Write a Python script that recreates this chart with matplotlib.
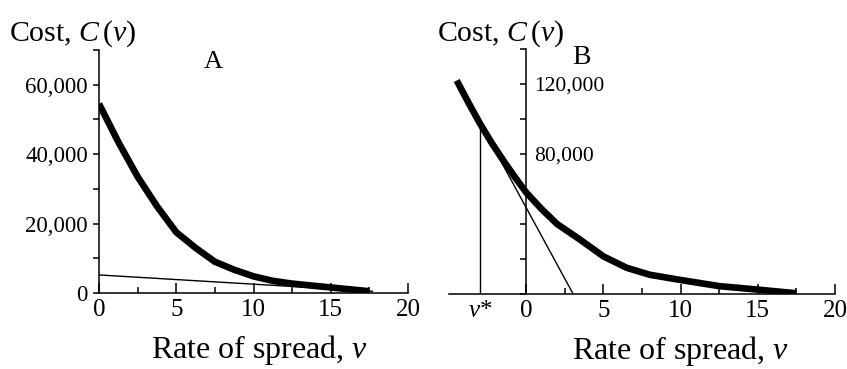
import matplotlib
matplotlib.use("Agg")
import matplotlib.pyplot as plt
from matplotlib.ticker import FixedLocator, FixedFormatter

plt.rcParams["font.family"] = ["Liberation Serif"]
plt.rcParams["mathtext.fontset"] = "custom"
plt.rcParams["mathtext.rm"] = "Liberation Serif"
plt.rcParams["mathtext.it"] = "Liberation Serif:italic"

# ── Données ──────────────────────────────────────────────────────────────────
# Panneau A
va = [0, 1.25, 2.5, 3.75, 5, 6.25, 7.5, 8.75, 10, 11.25, 12.5, 15, 17.5]
ca = [54500, 43500, 33500, 25000, 17500, 13000, 9000, 6700, 4800, 3500, 2700, 1600, 500]
va_tan = [0, 17.7]
ca_tan = [5200, 500]
ya_major = [0, 20000, 40000, 60000]
ya_labels = ["0", "20,000", "40,000", "60,000"]
ya_minor = [10000, 30000, 50000, 70000]

# Panneau B
vb = [-4.5, -3.75, -3, -2.25, -1.5, -0.75, 0, 1, 2, 3.5, 5, 6.5, 8, 10, 12.5, 15, 17.5]
cb = [122000, 109500, 97500, 86500, 76500, 67000, 58000, 48500, 40000, 31000,
      21500, 15000, 11000, 8000, 4500, 2500, 400]
v_star = -3.0
c_star = 97500
vb_tan = [v_star, 3.04]
cb_tan = [98000, 0]
yb_ticks = [0, 20000, 40000, 60000, 80000, 100000, 120000, 140000]
yb_labels = ["", "", "", "", "80,000", "", "120,000", ""]

x_major = [0, 5, 10, 15, 20]
x_major_labels = ["0", "5", "10", "15", "20"]
x_minor = [2.5, 7.5, 12.5, 17.5]

fig = plt.figure(figsize=(8.47, 3.69), dpi=100)
axA = fig.add_axes([99 / 847, 76 / 369, 309 / 847, 243 / 369])
axB = fig.add_axes([449 / 847, 75 / 369, 386 / 847, 245 / 369])

for ax in (axA, axB):
    ax.spines["top"].set_visible(False)
    ax.spines["right"].set_visible(False)
    ax.spines["left"].set_linewidth(1.1)
    ax.spines["bottom"].set_linewidth(1.1)
    ax.patch.set_alpha(0)
    ax.xaxis.set_minor_locator(FixedLocator(x_minor))
    ax.tick_params(axis="x", which="major", direction="in", length=7, width=1.1,
                   labelsize=18, pad=4)
    ax.tick_params(axis="x", which="minor", direction="in", length=4.5, width=1.1)
    ax.tick_params(axis="y", which="both", direction="out", length=4, width=1.1)

# ── A ───────────────────────────────────────────────────────────────────────
axA.plot(va, ca, color="black", lw=4.8, solid_capstyle="butt")
axA.plot(va_tan, ca_tan, color="black", lw=1.0)
axA.set_xlim(0, 20)
axA.set_ylim(0, 70000)
axA.set_xticks(x_major, x_major_labels)
axA.set_yticks(ya_major, ya_labels)
axA.yaxis.set_minor_locator(FixedLocator(ya_minor))
axA.tick_params(axis="y", labelsize=16.5, pad=4)
axA.text(7.4, 66500, "A", ha="center", va="center", fontsize=19)
axA.text(-0.29, 1.005, "Cost, $C\\,(v)$", transform=axA.transAxes, fontsize=21.5,
         ha="left", va="bottom")
axA.set_xlabel("Rate of spread, $v$", fontsize=23)
axA.xaxis.set_label_coords(0.52, -0.165)

# ── B ───────────────────────────────────────────────────────────────────────
axB.plot(vb, cb, color="black", lw=4.8, solid_capstyle="butt")
axB.plot(vb_tan, cb_tan, color="black", lw=1.0)
axB.plot([v_star, v_star], [0, c_star], color="black", lw=1.0)
axB.set_xlim(-5, 20)
axB.set_ylim(0, 140000)
axB.spines["left"].set_position(("data", 0))
axB.spines["right"].set_position(("data", 0))
axB.set_xticks([v_star] + x_major, ["$v$*"] + x_major_labels)
axB.xaxis.get_major_ticks()[0].tick1line.set_visible(False)
axB.yaxis.set_major_locator(FixedLocator(yb_ticks))
axB.yaxis.set_major_formatter(FixedFormatter(yb_labels))
axB.tick_params(axis="y", left=True, right=False, labelleft=False, labelright=True,
                labelsize=15.5, pad=2)
axB.text(3.6, 135000, "B", ha="center", va="center", fontsize=20)
axB.text(-0.03, 1.0, "Cost, $C\\,(v)$", transform=axB.transAxes, fontsize=21.5,
         ha="left", va="bottom")
axB.set_xlabel("Rate of spread, $v$", fontsize=23)
axB.xaxis.set_label_coords(0.6, -0.165)

fig.savefig("out.png", dpi=100)
